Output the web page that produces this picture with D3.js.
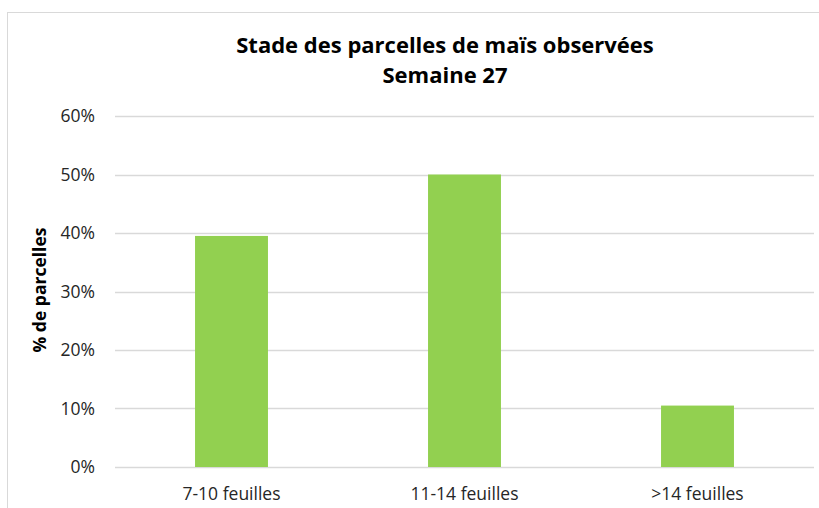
<!DOCTYPE html>
<html>
<head>
<meta charset="utf-8">
<script src="https://cdn.jsdelivr.net/npm/d3@7"></script>
<style>
  body { margin: 0; background: #fff; }
  svg { display: block; font-family: "Open Sans", "Noto Sans", sans-serif; }
</style>
</head>
<body>
<div id="chart"></div>
<script>
const categories = ["7-10 feuilles", "11-14 feuilles", ">14 feuilles"];
const values = [0.395, 0.5, 0.105];
const yTicks = [0, 0.1, 0.2, 0.3, 0.4, 0.5, 0.6];
const titleLines = ["Stade des parcelles de maïs observées", "Semaine 27"];
const yTitle = "% de parcelles";

const width = 819;
const height = 508;
const margin = { top: 116, right: 5, bottom: 41, left: 115 };

const svg = d3.select("#chart")
  .append("svg")
  .attr("width", width)
  .attr("height", height);

// chart area border (extends past the window at right and bottom)
svg.append("rect")
  .attr("x", 7.5)
  .attr("y", 12.5)
  .attr("width", 830)
  .attr("height", 520)
  .attr("fill", "none")
  .attr("stroke", "#d9d9d9");

const x = d3.scaleBand()
  .domain(categories)
  .range([margin.left, width - margin.right])
  .paddingInner(0.687)
  .paddingOuter(0.3435);

const y = d3.scaleLinear()
  .domain([0, 0.6])
  .range([height - margin.bottom, margin.top]);

// gridlines
svg.append("g")
  .selectAll("line")
  .data(yTicks)
  .join("line")
  .attr("x1", margin.left)
  .attr("x2", width - margin.right)
  .attr("y1", (d) => Math.round(y(d)) + 0.5)
  .attr("y2", (d) => Math.round(y(d)) + 0.5)
  .attr("stroke", "#d9d9d9")
  .attr("stroke-width", 1.3);

// bars
svg.append("g")
  .selectAll("rect")
  .data(values)
  .join("rect")
  .attr("x", (d, i) => x(categories[i]))
  .attr("width", x.bandwidth())
  .attr("y", (d) => y(d))
  .attr("height", (d) => y(0) - y(d))
  .attr("fill", "#92d050");

// y tick labels
svg.append("g")
  .selectAll("text")
  .data(yTicks)
  .join("text")
  .attr("x", 95)
  .attr("y", (d) => y(d))
  .attr("dy", "0.35em")
  .attr("text-anchor", "end")
  .attr("font-size", 17.5)
  .attr("fill", "#262626")
  .text(d3.format(".0%"));

// x labels
svg.append("g")
  .selectAll("text")
  .data(categories)
  .join("text")
  .attr("x", (d) => x(d) + x.bandwidth() / 2)
  .attr("y", 500)
  .attr("text-anchor", "middle")
  .attr("font-size", 17.5)
  .attr("fill", "#262626")
  .text((d) => d);

// y axis title
svg.append("text")
  .attr("transform", "translate(46,290) rotate(-90)")
  .attr("text-anchor", "middle")
  .attr("font-size", 17.5)
  .attr("font-weight", "bold")
  .attr("fill", "#000")
  .text(yTitle);

// title
svg.append("g")
  .selectAll("text")
  .data(titleLines)
  .join("text")
  .attr("x", 445)
  .attr("y", (d, i) => 53 + i * 30)
  .attr("text-anchor", "middle")
  .attr("font-size", 22)
  .attr("font-weight", "bold")
  .attr("fill", "#000")
  .text((d) => d);
</script>
</body>
</html>
